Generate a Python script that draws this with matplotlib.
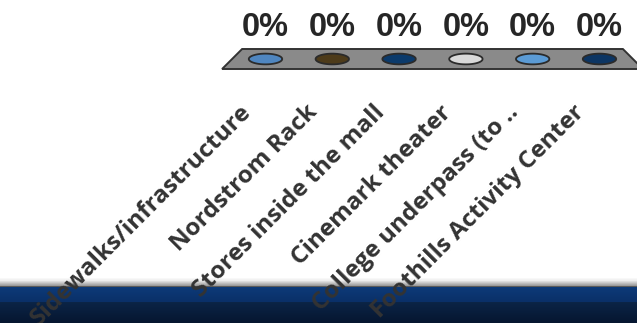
import matplotlib.pyplot as plt
import numpy as np
from matplotlib.path import Path
from matplotlib.patches import Polygon
from matplotlib.colors import to_rgb

categories = ["Sidewalks/infrastructure", "Nordstrom Rack", "Stores inside the mall",
              "Cinemark theater", "College underpass (to ..", "Foothills Activity Center"]
values = [0, 0, 0, 0, 0, 0]
colors = ["#4f86c0", "#4d3b1a", "#0b3a6b", "#d9d9d9", "#5b9bd5", "#0c3563"]

fig = plt.figure(figsize=(6.37, 3.23), dpi=100)
fig.patch.set_facecolor("white")

# background band at the bottom (slide decoration)
bg = fig.add_axes([0, 0, 1, 1], zorder=0)
bg.axis("off")

def ramp(c1, c2, n):
    a, b = np.array(to_rgb(c1)), np.array(to_rgb(c2))
    return [a + (b - a) * t for t in np.linspace(0, 1, n)]

rows = (ramp("#ffffff", "#f2f2f2", 3) + ramp("#eeeeee", "#9c9c9c", 6)
        + ramp("#5a5a5a", "#5a5a5a", 1)
        + ramp("#0d3a78", "#0a3068", 15)
        + ramp("#0b2446", "#061630", 21))
band = np.array(rows)[:, None, :]
bg.imshow(band, extent=(0, 637, 323, 277), aspect="auto", interpolation="nearest")
bg.set_xlim(0, 637)
bg.set_ylim(323, 0)

# chart area
ax = fig.add_axes([232.1 / 637, 0, 400.8 / 637, 1], zorder=1)
ax.patch.set_alpha(0)
ax.set_xlim(-0.5, 5.5)
ax.set_ylim(-26.4, 5.9)
ax.axis("off")

x = np.arange(len(categories))

# 3d floor
floor = Polygon([(-0.35, 1), (5.35, 1), (5.65, -1), (-0.65, -1)], closed=True,
                facecolor="#8a8a8a", edgecolor="#333333", lw=1.4, clip_on=False, zorder=2)
ax.add_patch(floor)

# bars (all zero -> only the base ellipses)
t = np.linspace(0, 2 * np.pi, 60)
ell = Path(np.column_stack([np.cos(t), 0.32 * np.sin(t)]))
ax.scatter(x, values, marker=ell, s=580, c=colors, edgecolors="#2b2b2b",
           linewidths=1.3, zorder=3, clip_on=False)

for i, v in enumerate(values):
    ax.annotate(f"{v}%", (x[i], v), xytext=(0, 23), textcoords="offset points",
                ha="center", va="center", fontsize=23.5, fontweight="bold",
                family="Liberation Sans", color="#262626", zorder=4)

for i, cat in enumerate(categories):
    ax.annotate(cat, (x[i], 0), xytext=(-13, -36), textcoords="offset points",
                ha="right", va="center", rotation=45, rotation_mode="anchor",
                fontsize=17.5, fontweight="bold", family="Open Sans",
                color="#333333", zorder=4, annotation_clip=False)

fig.savefig("out.png", dpi=100)
